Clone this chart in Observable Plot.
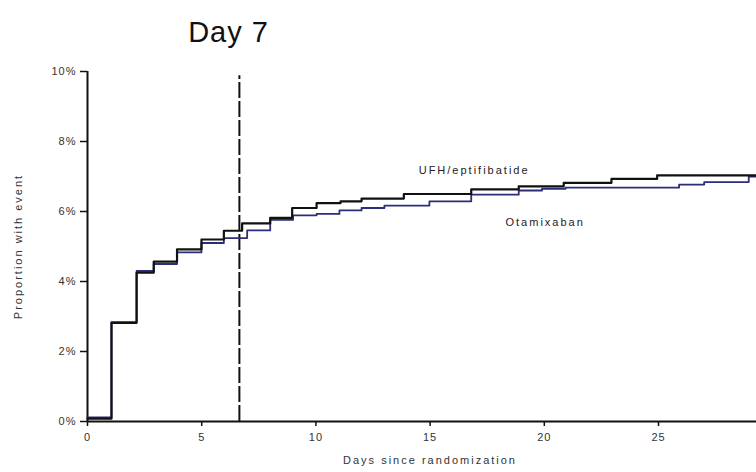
<!DOCTYPE html>
<html>
<head>
<meta charset="utf-8">
<script src="https://cdn.jsdelivr.net/npm/d3@7"></script>
<script src="https://cdn.jsdelivr.net/npm/@observablehq/plot@0.6"></script>
<style>
  body { margin: 0; background: #fff; }
  #chart { width: 756px; height: 472px; }
  #chart svg text { letter-spacing: 2px; }
  #chart svg g[aria-label="y-axis tick label"] text,
  #chart svg g[aria-label="x-axis tick label"] text { letter-spacing: 1px; }
  #chart svg text.title { letter-spacing: 1px; }
</style>
</head>
<body>
<div id="chart"></div>
<script>
// Kaplan-Meier style cumulative event curves (days, % with event)
const ufhDays   = [0, 1.05, 2.15, 2.9, 3.92, 4.99, 5.97, 6.77, 8.0, 8.96, 10.03, 11.08, 12.0, 13.85, 16.8, 18.88, 20.85, 22.94, 24.94, 29.3];
const ufhValues = [0.08, 2.82, 4.25, 4.57, 4.92, 5.2, 5.45, 5.66, 5.82, 6.1, 6.24, 6.29, 6.37, 6.5, 6.63, 6.72, 6.82, 6.93, 7.03, 7.03];
const otaDays   = [0, 1.05, 2.15, 2.9, 3.92, 4.99, 5.97, 6.99, 8.0, 9.0, 10.03, 11.03, 12.0, 13.0, 14.97, 16.8, 18.88, 19.9, 20.93, 25.9, 27.0, 28.95, 29.3];
const otaValues = [0.12, 2.84, 4.3, 4.5, 4.83, 5.1, 5.24, 5.46, 5.76, 5.89, 5.93, 6.03, 6.1, 6.17, 6.29, 6.48, 6.6, 6.65, 6.68, 6.77, 6.84, 7.0, 7.0];
const seriesNames = ["UFH/eptifibatide", "Otamixaban"];
const yTicks = [0, 2, 4, 6, 8, 10];
const xTicks = [0, 5, 10, 15, 20, 25];
const landmarkDay = 6.65;
const titleText = "Day 7";
const xLabel = "Days since randomization";
const yLabel = "Proportion with event";
const labelPos = [{x: 14.5, y: 7.17, name: seriesNames[0]}, {x: 18.3, y: 5.69, name: seriesNames[1]}];

const ufh = ufhDays.map((d, i) => ({day: d, value: ufhValues[i]}));
const ota = otaDays.map((d, i) => ({day: d, value: otaValues[i]}));

const font = "'Liberation Sans', Arial, sans-serif";

const plot = Plot.plot({
  width: 756,
  height: 472,
  marginLeft: 87,
  marginRight: 0,
  marginTop: 71,
  marginBottom: 51,
  style: {fontFamily: font, background: "#fff", overflow: "visible"},
  x: {domain: [0, 29.29]},
  y: {domain: [0, 10]},
  marks: [
    Plot.axisY({ticks: yTicks, tickFormat: d => d + "%", tickSize: 7, tickPadding: 4, fontSize: 11, label: null, stroke: "#111", strokeWidth: 1.5, fill: "#333"}),
    Plot.axisX({ticks: xTicks, tickSize: 5, tickPadding: 7, fontSize: 11, label: null, stroke: "#111", strokeWidth: 1.5, fill: "#333"}),
    Plot.ruleX([0], {y1: 0, y2: 10, stroke: "#111", strokeWidth: 2}),
    Plot.ruleY([0], {stroke: "#111", strokeWidth: 2}),
    Plot.ruleX([landmarkDay], {y1: 0, y2: 9.88, stroke: "#111", strokeWidth: 2, strokeDasharray: "16,3"}),
    Plot.line(ota, {x: "day", y: "value", curve: "step-after", stroke: "#2d2d78", strokeWidth: 1.8}),
    Plot.line(ufh, {x: "day", y: "value", curve: "step-after", stroke: "#111", strokeWidth: 2.2}),
    Plot.text(labelPos, {x: "x", y: "y", text: "name", textAnchor: "start", fontSize: 11, fill: "#222"}),
    Plot.text([titleText], {frameAnchor: "top-left", dx: 141, dy: -50, fontSize: 29, fill: "#111", textAnchor: "middle"}),
    Plot.text([xLabel], {frameAnchor: "bottom", dx: 8, dy: 42, fontSize: 11, fill: "#333", textAnchor: "middle"}),
    Plot.text([yLabel], {frameAnchor: "left", dx: -69, rotate: -90, fontSize: 11, fill: "#333", textAnchor: "middle"})
  ]
});
// title keeps tighter spacing
d3.select(plot).selectAll("text").filter(function() { return this.textContent === titleText; }).classed("title", true);
document.getElementById("chart").appendChild(plot);
</script>
</body>
</html>
